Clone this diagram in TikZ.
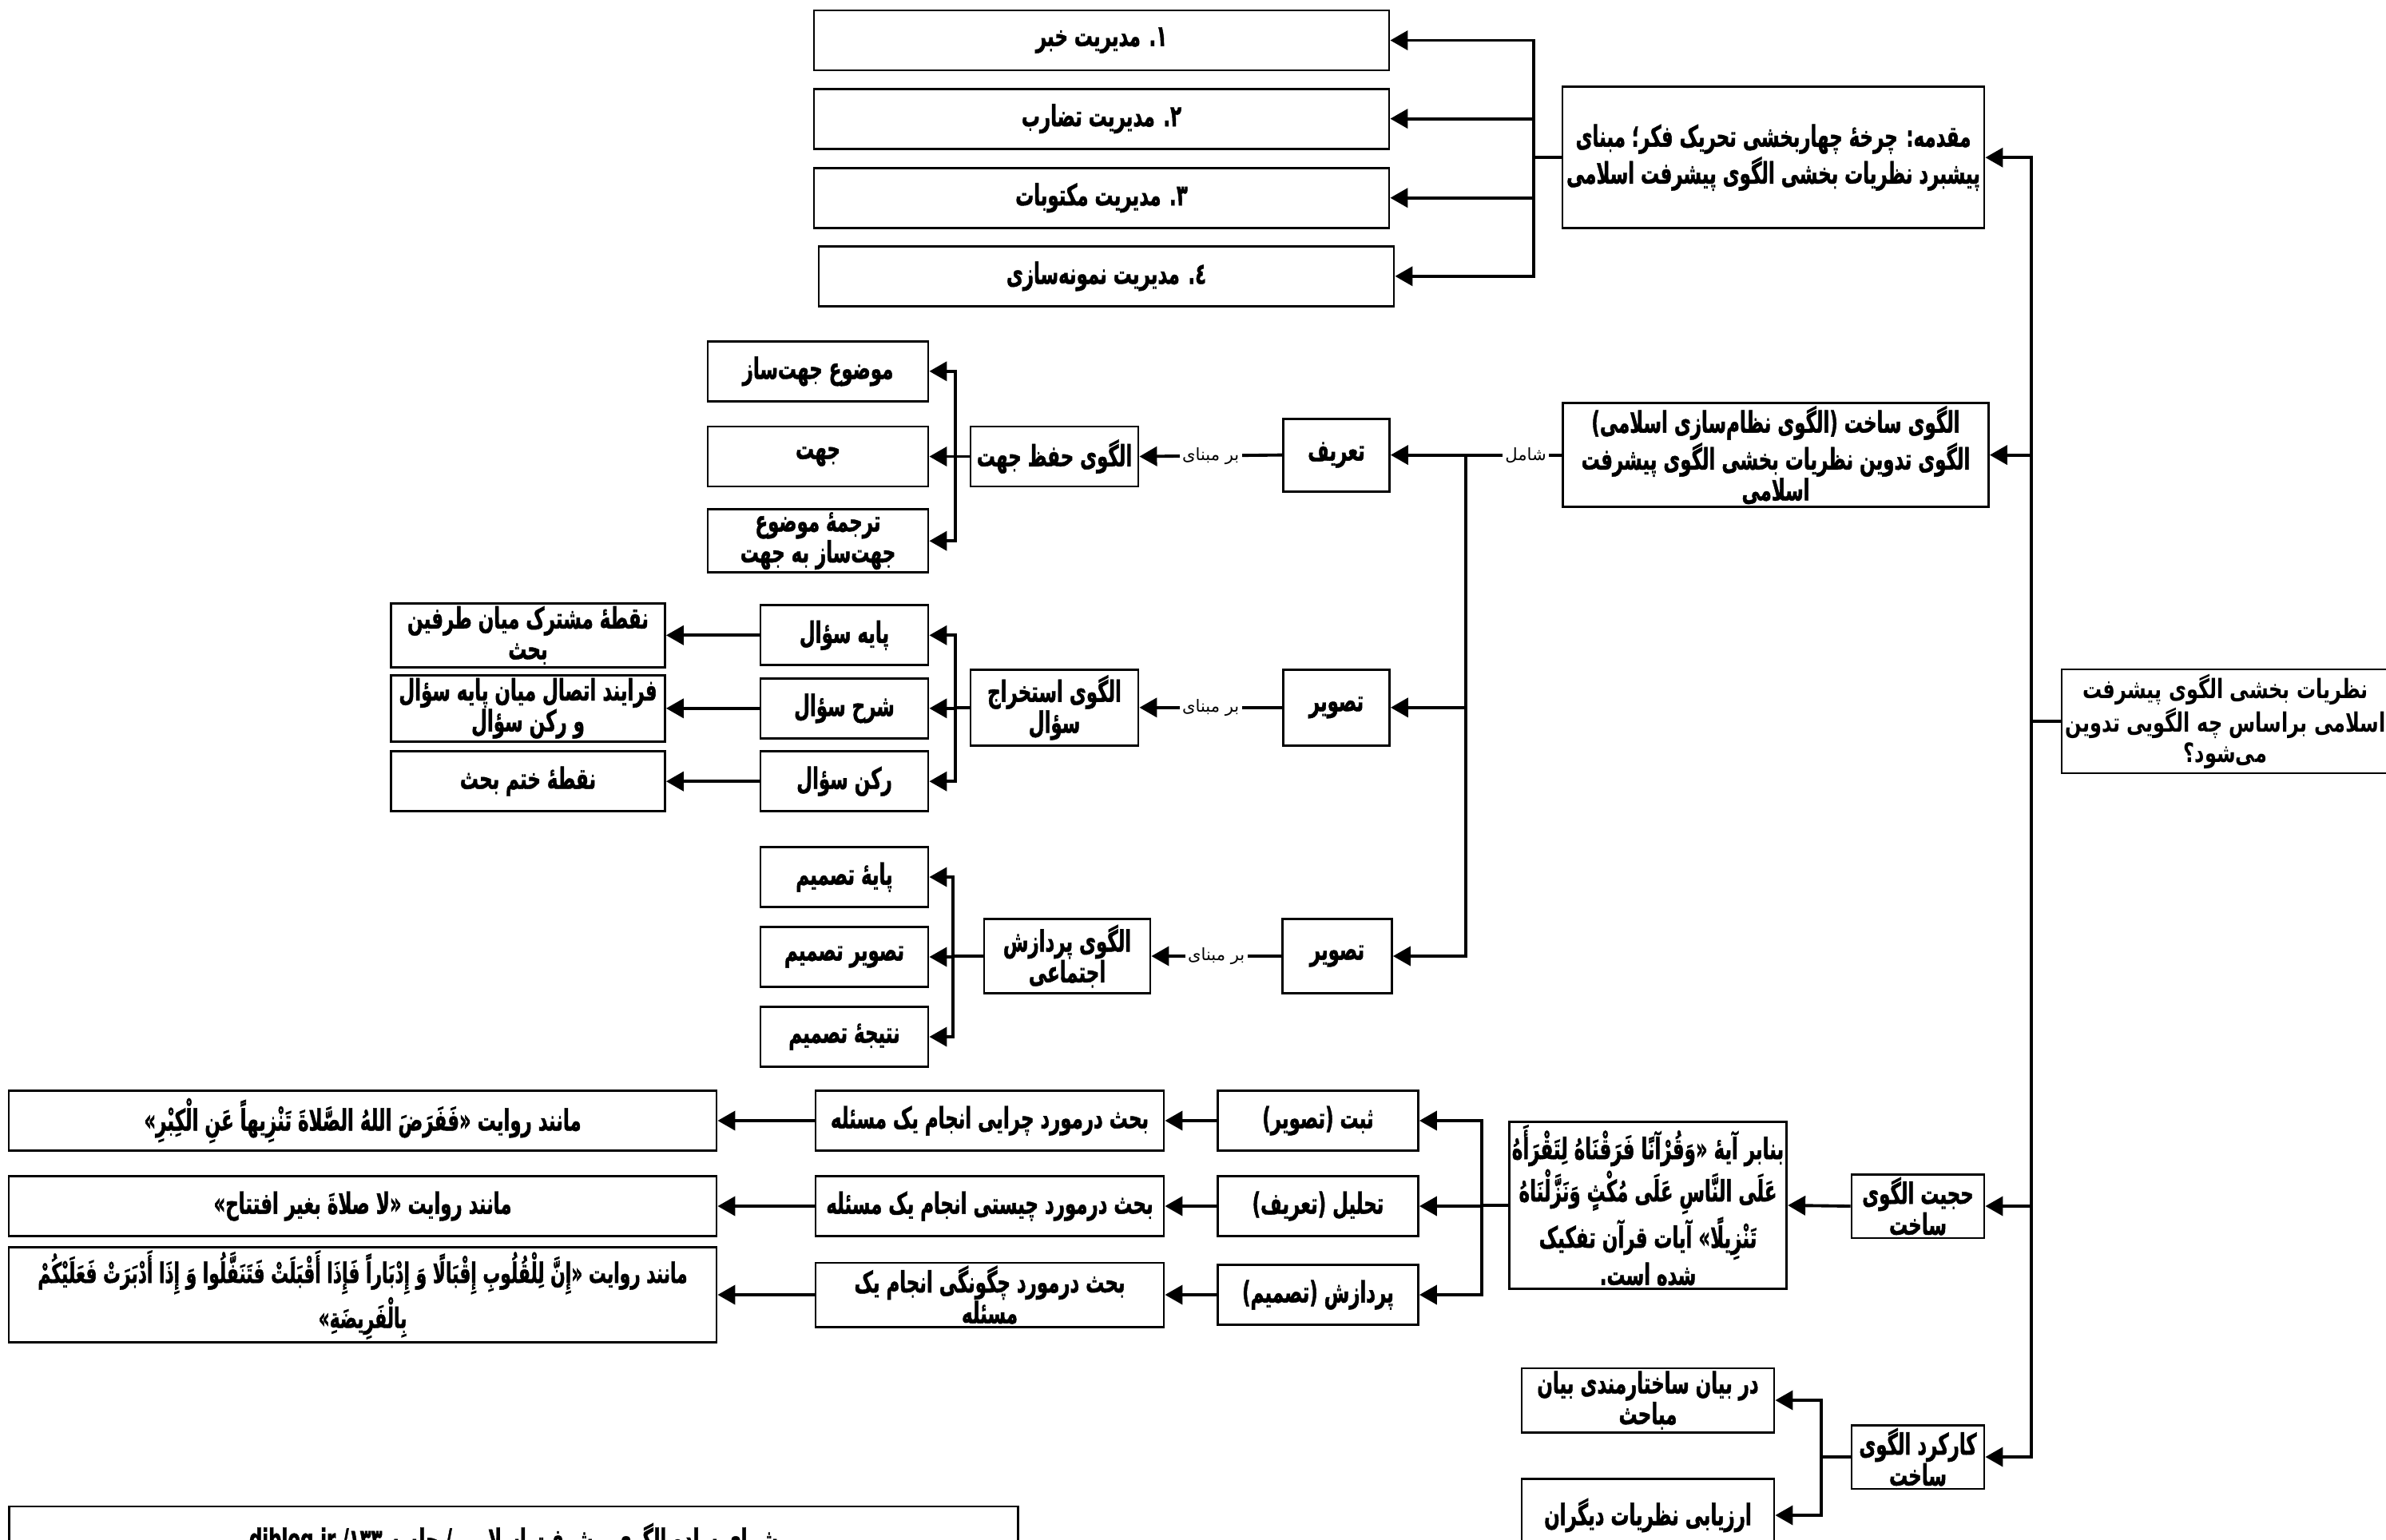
\documentclass[tikz,border=0pt]{standalone}
\usepackage{fontspec}
\newfontfamily\arabicfont[Script=Arabic]{DejaVu Sans}
\newfontfamily\rootfont[Script=Arabic,FakeStretch=0.72]{DejaVu Sans}
\newfontfamily\boxfont[Script=Arabic,FakeStretch=0.62,FakeBold=1.2]{DejaVu Sans}
\TeXXeTstate=1
\newcommand{\fa}[1]{\beginR#1\endR}
\usetikzlibrary{arrows.meta}

\begin{document}
\begin{tikzpicture}[
  box/.style={draw=black, fill=white, line width=.8pt, align=center,
    inner xsep=1pt, inner ysep=1pt, minimum height=.75cm,
    font=\boxfont\bfseries\fontsize{10.5}{11}\selectfont},
  mgmt/.style={box, minimum width=7.2cm},
  jbox/.style={box, minimum width=2.76cm},
  leaf/.style={box, minimum width=2.1cm},
  far/.style={box, minimum width=3.43cm},
  phase/.style={box, minimum width=2.51cm},
  talk/.style={box, minimum width=4.36cm},
  quote/.style={box, minimum width=8.86cm},
  side/.style={box, minimum width=1.66cm},
  edge/.style={-{Triangle[length=2.2mm,width=2.4mm]}, line width=1.1pt},
  bus/.style={line width=1.1pt},
  lbl/.style={fill=white, inner sep=1pt, font=\arabicfont\fontsize{6}{7}\selectfont}
]
\useasboundingbox (0,0) rectangle (29.87,-19.27);
\clip (0,0) rectangle (29.87,-19.27);

% root and main branches
\node[box, minimum width=4.1cm, minimum height=1.3cm,
  font=\rootfont\bfseries\fontsize{9.5}{10.8}\selectfont] (root) at (27.86,-9.03)
  {\fa{نظریات بخشی الگوی پیشرفت}\\\fa{اسلامی براساس چه الگویی تدوین}\\\fa{می‌شود؟}};
\node[box, minimum width=5.28cm, minimum height=1.77cm] (intro) at (22.20,-1.972)
  {\fa{مقدمه: چرخهٔ چهاربخشی تحریک فکر؛ مبنای}\\\fa{پیشبرد نظریات بخشی الگوی پیشرفت اسلامی}};
\node[box, minimum width=5.33cm, minimum height=1.3cm] (sakht) at (22.23,-5.696)
  {\fa{الگوی ساخت (الگوی نظام‌سازی اسلامی)}\\\fa{الگوی تدوین نظریات بخشی الگوی پیشرفت}\\\fa{اسلامی}};
\node[side] (hojjat) at (24.01,-15.10) {\fa{حجیت الگوی}\\\fa{ساخت}};
\node[side] (karkard) at (24.01,-18.24) {\fa{کارکرد الگوی}\\\fa{ساخت}};

% four management boxes
\node[mgmt] (khabar) at (13.79,-0.505) {\fa{۱. مدیریت خبر}};
\node[mgmt] (tazarob) at (13.79,-1.486) {\fa{۲. مدیریت تضارب}};
\node[mgmt] (maktubat) at (13.79,-2.477) {\fa{۳. مدیریت مکتوبات}};
\node[mgmt] (nemune) at (13.85,-3.458) {\fa{٤. مدیریت نمونه‌سازی}};

% tarif
\node[box, minimum width=1.33cm, minimum height=.91cm] (tarif) at (16.73,-5.696) {\fa{تعریف}};
\node[box, minimum width=2.1cm] (hefz) at (13.20,-5.715) {\fa{الگوی حفظ جهت}};
\node[jbox] (mowzu) at (10.24,-4.648) {\fa{موضوع جهت‌ساز}};
\node[jbox] (jahat) at (10.24,-5.715) {\fa{جهت}};
\node[jbox] (tarjome) at (10.24,-6.772) {\fa{ترجمهٔ موضوع}\\\fa{جهت‌ساز به جهت}};

% tasvir, question
\node[box, minimum width=1.33cm, minimum height=.95cm] (tasvira) at (16.73,-8.858) {\fa{تصویر}};
\node[box, minimum width=2.1cm, minimum height=.95cm] (estekhraj) at (13.20,-8.858)
  {\fa{الگوی استخراج}\\\fa{سؤال}};
\node[leaf] (paye) at (10.57,-7.953) {\fa{پایه سؤال}};
\node[leaf] (sharh) at (10.57,-8.868) {\fa{شرح سؤال}};
\node[leaf] (rokn) at (10.57,-9.782) {\fa{رکن سؤال}};
\node[far] (moshtarak) at (6.61,-7.953) {\fa{نقطهٔ مشترک میان طرفین}\\\fa{بحث}};
\node[far] (etesal) at (6.61,-8.868) {\fa{فرایند اتصال میان پایه سؤال}\\\fa{و رکن سؤال}};
\node[far] (khatm) at (6.61,-9.782) {\fa{نقطهٔ ختم بحث}};

% tasvir, decision
\node[box, minimum width=1.37cm, minimum height=.93cm] (tasvirb) at (16.74,-11.97) {\fa{تصویر}};
\node[box, minimum width=2.08cm, minimum height=.93cm] (pardazesh) at (13.36,-11.97)
  {\fa{الگوی پردازش}\\\fa{اجتماعی}};
\node[leaf] (payetasmim) at (10.57,-10.98) {\fa{پایهٔ تصمیم}};
\node[leaf] (tasvirtasmim) at (10.57,-11.98) {\fa{تصویر تصمیم}};
\node[leaf] (natije) at (10.57,-12.98) {\fa{نتیجهٔ تصمیم}};

% hojjat
\node[box, minimum width=3.39cm, minimum height=1.79cm] (banabar) at (20.63,-15.09)
  {\fa{بنابر آیهٔ «وَقُرْآنًا فَرَقْنَاهُ لِتَقْرَأَهُ}\\\fa{عَلَى النَّاسِ عَلَى مُكْثٍ وَنَزَّلْنَاهُ}\\\fa{تَنْزِيلًا» آیات قرآن تفکیک}\\\fa{شده است.}};
\node[phase] (sabt) at (16.50,-14.03) {\fa{ثبت (تصویر)}};
\node[phase] (tahlil) at (16.50,-15.10) {\fa{تحلیل (تعریف)}};
\node[phase] (tasmim) at (16.50,-16.21) {\fa{پردازش (تصمیم)}};
\node[talk] (chera) at (12.39,-14.03) {\fa{بحث درمورد چرایی انجام یک مسئله}};
\node[talk] (chisti) at (12.39,-15.10) {\fa{بحث درمورد چیستی انجام یک مسئله}};
\node[talk] (chegune) at (12.39,-16.21) {\fa{بحث درمورد چگونگی انجام یک}\\\fa{مسئله}};
\node[quote] (revayata) at (4.54,-14.03)
  {\fa{مانند روایت «فَفَرَضَ اللهُ الصَّلاةَ تَنْزِيهاً عَنِ الْكِبْرِ»}};
\node[quote] (revayatb) at (4.54,-15.10) {\fa{مانند روایت «لا صلاةَ بغیر افتتاح»}};
\node[quote, font=\boxfont\bfseries\fontsize{10}{10.5}\selectfont] (revayatc) at (4.54,-16.21)
  {\fa{مانند روایت «إِنَّ لِلْقُلُوبِ إِقْبَالًا وَ إِدْبَاراً فَإِذَا أَقْبَلَتْ فَتَنَفَّلُوا وَ إِذَا أَدْبَرَتْ فَعَلَيْكُمْ}\\\fa{بِالْفَرِيضَةِ»}};

% karkard
\node[box, minimum width=3.16cm] (bayan) at (20.63,-17.53) {\fa{در بیان ساختارمندی بیان}\\\fa{مباحث}};
\node[box, minimum width=3.16cm, minimum height=.91cm] (arzyabi) at (20.63,-18.97) {\fa{ارزیابی نظریات دیگران}};

% caption
\node[box, minimum width=12.63cm, minimum height=.84cm] (caption) at (6.43,-19.28)
  {\fa{شمای ساده الگوی پیشرفت اسلامی / جلسه ۱۳۳/ \beginL diblog.ir\endL}};

% bus points
\coordinate (mainbus) at (25.43,-9.03);
\coordinate (introbus) at (19.20,-1.972);
\coordinate (sakhtbus) at (18.35,-5.696);
\coordinate (hefzbus) at (11.96,-5.715);
\coordinate (estbus) at (11.96,-8.858);
\coordinate (pardbus) at (11.93,-11.97);
\coordinate (banabus) at (18.55,-15.09);
\coordinate (karbus) at (22.80,-18.24);

% connectors
\draw[bus] (root.west) -- (mainbus);
\draw[edge] (mainbus) |- (intro.east);
\draw[edge] (mainbus) |- (sakht.east);
\draw[edge] (mainbus) |- (hojjat.east);
\draw[edge] (mainbus) |- (karkard.east);

\draw[bus] (intro.west) -- (introbus);
\draw[edge] (introbus) |- (khabar.east);
\draw[edge] (introbus) |- (tazarob.east);
\draw[edge] (introbus) |- (maktubat.east);
\draw[edge] (introbus) |- (nemune.east);

\draw[bus] (sakht.west) -- node[lbl, pos=.375] {\fa{شامل}} (sakhtbus);
\draw[edge] (sakhtbus) -- (tarif.east);
\draw[edge] (sakhtbus) |- (tasvira.east);
\draw[edge] (sakhtbus) |- (tasvirb.east);

\draw[edge] (tarif.west) -- node[lbl] {\fa{بر مبنای}} (hefz.east);
\draw[bus] (hefz.west) -- (hefzbus);
\draw[edge] (hefzbus) |- (mowzu.east);
\draw[edge] (hefzbus) -- (jahat.east);
\draw[edge] (hefzbus) |- (tarjome.east);

\draw[edge] (tasvira.west) -- node[lbl] {\fa{بر مبنای}} (estekhraj.east);
\draw[bus] (estekhraj.west) -- (estbus);
\draw[edge] (estbus) |- (paye.east);
\draw[edge] (estbus) |- (sharh.east);
\draw[edge] (estbus) |- (rokn.east);
\draw[edge] (paye.west) -- (moshtarak.east);
\draw[edge] (sharh.west) -- (etesal.east);
\draw[edge] (rokn.west) -- (khatm.east);

\draw[edge] (tasvirb.west) -- node[lbl] {\fa{بر مبنای}} (pardazesh.east);
\draw[bus] (pardazesh.west) -- (pardbus);
\draw[edge] (pardbus) |- (payetasmim.east);
\draw[edge] (pardbus) |- (tasvirtasmim.east);
\draw[edge] (pardbus) |- (natije.east);

\draw[edge] (hojjat.west) -- (banabar.east);
\draw[bus] (banabar.west) -- (banabus);
\draw[edge] (banabus) |- (sabt.east);
\draw[edge] (banabus) |- (tahlil.east);
\draw[edge] (banabus) |- (tasmim.east);
\draw[edge] (sabt.west) -- (chera.east);
\draw[edge] (tahlil.west) -- (chisti.east);
\draw[edge] (tasmim.west) -- (chegune.east);
\draw[edge] (chera.west) -- (revayata.east);
\draw[edge] (chisti.west) -- (revayatb.east);
\draw[edge] (chegune.west) -- (revayatc.east);

\draw[bus] (karkard.west) -- (karbus);
\draw[edge] (karbus) |- (bayan.east);
\draw[edge] (karbus) |- (arzyabi.east);
\end{tikzpicture}
\end{document}
